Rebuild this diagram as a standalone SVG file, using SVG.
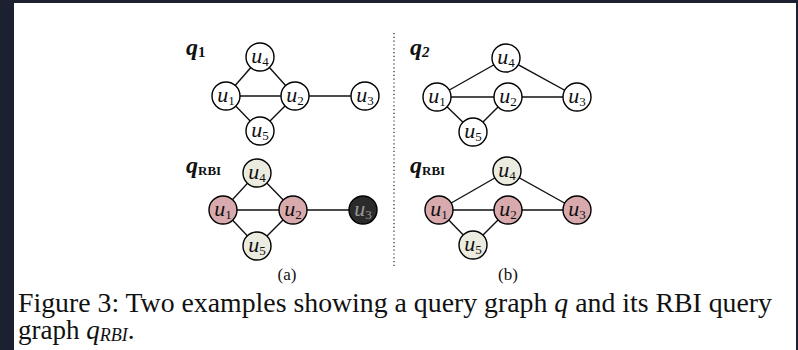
<svg xmlns="http://www.w3.org/2000/svg" width="798" height="350" viewBox="0 0 798 350">
<style>
.n circle{stroke:#000;stroke-width:1.4;fill:#fff}
.n text{font-family:"Liberation Serif",serif;font-style:italic;font-size:22px;text-anchor:middle;fill:#111}
.n tspan{font-size:13px;font-style:normal}
.pk circle{fill:#d9aaad}
.bg circle{fill:#ecebdf}
.dk circle{fill:#2b2b2b}
.dk text{fill:#9a9a9a}
#edges line{stroke:#111;stroke-width:1.4}
.ql{font-family:"Liberation Serif",serif;font-weight:bold;font-style:italic;font-size:24px;fill:#111}
.cap{font-family:"Liberation Serif",serif;font-size:27px;fill:#111}
.sub{font-family:"Liberation Serif",serif;font-size:17px;fill:#111}
</style>
<rect width="798" height="350" fill="#1b2130"/>
<rect x="14" y="3" width="782" height="347" fill="#fff"/>
<line x1="394" y1="33" x2="394" y2="268" stroke="#333" stroke-width="1.3" stroke-dasharray="1.2 2.6"/>
<text class="ql" x="186" y="55">q<tspan font-size="15" font-style="normal" dy="2">1</tspan></text>
<text class="ql" x="410" y="55">q<tspan font-size="15" dy="2">2</tspan></text>
<text class="ql" x="186" y="173">q<tspan font-size="13" font-style="normal" dy="2">RBI</tspan></text>
<text class="ql" x="410" y="173">q<tspan font-size="13" font-style="normal" dy="2">RBI</tspan></text>
<g id="edges">
<line x1="226" y1="96" x2="260" y2="57"/><line x1="260" y1="57" x2="295" y2="96"/><line x1="226" y1="96" x2="295" y2="96"/><line x1="226" y1="96" x2="260" y2="131"/><line x1="260" y1="131" x2="295" y2="96"/><line x1="295" y1="96" x2="365" y2="96"/>
<line x1="223" y1="210" x2="257" y2="173"/><line x1="257" y1="173" x2="293" y2="210"/><line x1="223" y1="210" x2="293" y2="210"/><line x1="223" y1="210" x2="257" y2="246"/><line x1="257" y1="246" x2="293" y2="210"/><line x1="293" y1="210" x2="363" y2="210"/>
<line x1="437" y1="97" x2="506" y2="58"/><line x1="506" y1="58" x2="577" y2="97"/><line x1="437" y1="97" x2="508" y2="97"/><line x1="508" y1="97" x2="577" y2="97"/><line x1="437" y1="97" x2="473" y2="132"/><line x1="473" y1="132" x2="508" y2="97"/>
<line x1="439" y1="210" x2="507" y2="171"/><line x1="507" y1="171" x2="577" y2="210"/><line x1="439" y1="210" x2="508" y2="210"/><line x1="508" y1="210" x2="577" y2="210"/><line x1="439" y1="210" x2="473" y2="245"/><line x1="473" y1="245" x2="508" y2="210"/>
</g>
<g id="a1u1" class="n"><circle cx="226" cy="96" r="14"/><text x="226" y="102">u<tspan dy="3">1</tspan></text></g>
<g id="a1u4" class="n"><circle cx="260" cy="57" r="14"/><text x="260" y="63">u<tspan dy="3">4</tspan></text></g>
<g id="a1u2" class="n"><circle cx="295" cy="96" r="14"/><text x="295" y="102">u<tspan dy="3">2</tspan></text></g>
<g id="a1u5" class="n"><circle cx="260" cy="131" r="14"/><text x="260" y="137">u<tspan dy="3">5</tspan></text></g>
<g id="a1u3" class="n"><circle cx="365" cy="96" r="14"/><text x="365" y="102">u<tspan dy="3">3</tspan></text></g>
<g id="a2u1" class="n pk"><circle cx="223" cy="210" r="14"/><text x="223" y="216">u<tspan dy="3">1</tspan></text></g>
<g id="a2u4" class="n bg"><circle cx="257" cy="173" r="14"/><text x="257" y="179">u<tspan dy="3">4</tspan></text></g>
<g id="a2u2" class="n pk"><circle cx="293" cy="210" r="14"/><text x="293" y="216">u<tspan dy="3">2</tspan></text></g>
<g id="a2u5" class="n bg"><circle cx="257" cy="246" r="14"/><text x="257" y="252">u<tspan dy="3">5</tspan></text></g>
<g id="a2u3" class="n dk"><circle cx="363" cy="210" r="14"/><text x="363" y="216">u<tspan dy="3">3</tspan></text></g>
<g id="b1u1" class="n"><circle cx="437" cy="97" r="14"/><text x="437" y="103">u<tspan dy="3">1</tspan></text></g>
<g id="b1u4" class="n"><circle cx="506" cy="58" r="14"/><text x="506" y="64">u<tspan dy="3">4</tspan></text></g>
<g id="b1u2" class="n"><circle cx="508" cy="97" r="14"/><text x="508" y="103">u<tspan dy="3">2</tspan></text></g>
<g id="b1u3" class="n"><circle cx="577" cy="97" r="14"/><text x="577" y="103">u<tspan dy="3">3</tspan></text></g>
<g id="b1u5" class="n"><circle cx="473" cy="132" r="14"/><text x="473" y="138">u<tspan dy="3">5</tspan></text></g>
<g id="b2u1" class="n pk"><circle cx="439" cy="210" r="14"/><text x="439" y="216">u<tspan dy="3">1</tspan></text></g>
<g id="b2u4" class="n bg"><circle cx="507" cy="171" r="14"/><text x="507" y="177">u<tspan dy="3">4</tspan></text></g>
<g id="b2u2" class="n pk"><circle cx="508" cy="210" r="14"/><text x="508" y="216">u<tspan dy="3">2</tspan></text></g>
<g id="b2u3" class="n pk"><circle cx="577" cy="210" r="14"/><text x="577" y="216">u<tspan dy="3">3</tspan></text></g>
<g id="b2u5" class="n bg"><circle cx="473" cy="245" r="14"/><text x="473" y="251">u<tspan dy="3">5</tspan></text></g>
<text class="sub" x="287" y="280" text-anchor="middle">(a)</text>
<text class="sub" x="508" y="280" text-anchor="middle">(b)</text>
<text class="cap" x="18" y="312" textLength="754" lengthAdjust="spacingAndGlyphs">Figure 3: Two examples showing a query graph <tspan font-style="italic">q</tspan> and its RBI query</text>
<text class="cap" x="18" y="339">graph <tspan font-style="italic">q</tspan><tspan font-style="italic" font-size="18" dy="2">RBI</tspan><tspan dy="-2">.</tspan></text>
</svg>
